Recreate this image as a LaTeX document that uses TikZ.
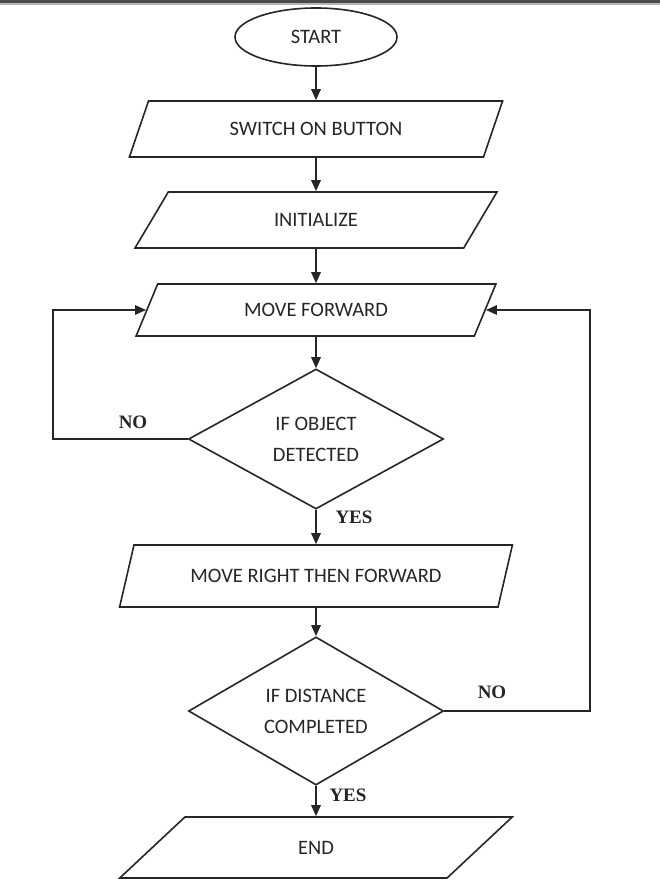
\documentclass[tikz,border=0pt]{standalone}
\usepackage{fontspec}
\setmainfont{Carlito}
\newfontfamily\lblfont{Liberation Serif}
\usetikzlibrary{shapes.geometric,arrows.meta}
\definecolor{ink}{HTML}{262626}
\definecolor{barc}{HTML}{4A4A4A}
\tikzset{
  boxtext/.style={font=\fontsize{20.5}{31}\selectfont, text=ink},
  para/.style={trapezium, trapezium left angle=60, trapezium right angle=120,
    trapezium stretches=true, draw=ink, line width=1.6pt, inner sep=2pt, boxtext},
  dec/.style={diamond, draw=ink, line width=1.6pt, inner sep=0pt, align=center, boxtext},
  term/.style={ellipse, draw=ink, line width=1.6pt, inner sep=0pt, boxtext},
  flow/.style={draw=ink, line width=1.6pt, -{Triangle[length=11pt,width=9.5pt]}},
  lbl/.style={font=\lblfont\bfseries\fontsize{19}{22}\selectfont, text=ink}
}
\begin{document}
\begin{tikzpicture}[x=1pt,y=-1pt]
\useasboundingbox (0,0) rectangle (660,893);
\fill[white] (0,0) rectangle (660,893);
\fill[barc] (0,0) rectangle (660,3.5);
\fill[barc!40] (0,3.5) rectangle (660,5);

\node[term, minimum width=162pt, minimum height=58pt] (start) at (316,37) {START};
\node[para, minimum width=374pt, minimum height=56pt] (sw) at (316,129) {SWITCH ON BUTTON};
\node[para, minimum width=362pt, minimum height=56pt] (init) at (316,220) {INITIALIZE};
\node[para, minimum width=360pt, minimum height=52pt] (mf) at (316,310) {MOVE FORWARD};
\node[dec, minimum width=255pt, minimum height=140pt] (d1) at (316,439) {IF OBJECT\\DETECTED};
\node[para, minimum width=393pt, minimum height=62pt] (mr) at (316,576) {MOVE RIGHT THEN FORWARD};
\node[dec, minimum width=255pt, minimum height=143pt] (d2) at (316,711) {IF DISTANCE\\COMPLETED};
\node[para, minimum width=394pt, minimum height=61pt] (endn) at (316,847.5) {END};

\coordinate (lx) at (53,0);
\coordinate (rx) at (590,0);

\draw[flow] (start.south) -- (sw.north);
\draw[flow] (sw.south) -- (init.north);
\draw[flow] (init.south) -- (mf.north);
\draw[flow] (mf.south) -- (d1.north);
\draw[flow] (d1.south) -- (mr.north);
\draw[flow] (mr.south) -- (d2.north);
\draw[flow] (d2.south) -- (endn.north);

\draw[flow] (d1.west) -- (d1.west -| lx) |- (mf.left side);
\draw[flow] (d2.east) -- (d2.east -| rx) |- (mf.right side);

\node[lbl] (no1) at (133,422) {NO};
\node[lbl] (yes1) at (354,517) {YES};
\node[lbl] (no2) at (492,692) {NO};
\node[lbl] (yes2) at (348,795) {YES};
\end{tikzpicture}
\end{document}
